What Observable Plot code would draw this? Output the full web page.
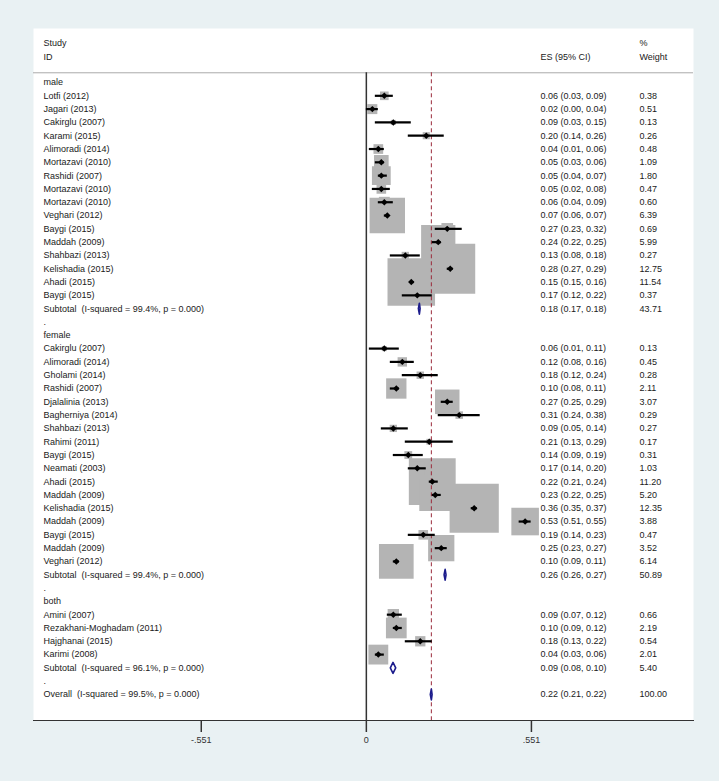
<!DOCTYPE html>
<html>
<head>
<meta charset="utf-8">
<script src="https://cdn.jsdelivr.net/npm/d3@7"></script>
<script src="https://cdn.jsdelivr.net/npm/@observablehq/plot@0.6"></script>
<style>
  html, body { margin: 0; padding: 0; background: #e9f1f3; }
</style>
</head>
<body>
<div id="chart"></div>
<script>
// ---- Data ----
const groupNames = ["male", "female", "both"];

const maleStudies = ["Lotfi (2012)", "Jagari (2013)", "Cakirglu (2007)", "Karami (2015)", "Alimoradi (2014)",
  "Mortazavi (2010)", "Rashidi (2007)", "Mortazavi (2010)", "Mortazavi (2010)", "Veghari (2012)",
  "Baygi (2015)", "Maddah (2009)", "Shahbazi (2013)", "Kelishadia (2015)", "Ahadi (2015)", "Baygi (2015)"];
const maleES = [0.06, 0.02, 0.09, 0.20, 0.04, 0.05, 0.05, 0.05, 0.06, 0.07, 0.27, 0.24, 0.13, 0.28, 0.15, 0.17];
const maleLo = [0.03, 0.00, 0.03, 0.14, 0.01, 0.03, 0.04, 0.02, 0.04, 0.06, 0.23, 0.22, 0.08, 0.27, 0.15, 0.12];
const maleHi = [0.09, 0.04, 0.15, 0.26, 0.06, 0.06, 0.07, 0.08, 0.09, 0.07, 0.32, 0.25, 0.18, 0.29, 0.16, 0.22];
const maleWeight = [0.38, 0.51, 0.13, 0.26, 0.48, 1.09, 1.80, 0.47, 0.60, 6.39, 0.69, 5.99, 0.27, 12.75, 11.54, 0.37];

const femaleStudies = ["Cakirglu (2007)", "Alimoradi (2014)", "Gholami (2014)", "Rashidi (2007)", "Djalalinia (2013)",
  "Bagherniya (2014)", "Shahbazi (2013)", "Rahimi (2011)", "Baygi (2015)", "Neamati (2003)", "Ahadi (2015)",
  "Maddah (2009)", "Kelishadia (2015)", "Maddah (2009)", "Baygi (2015)", "Maddah (2009)", "Veghari (2012)"];
const femaleES = [0.06, 0.12, 0.18, 0.10, 0.27, 0.31, 0.09, 0.21, 0.14, 0.17, 0.22, 0.23, 0.36, 0.53, 0.19, 0.25, 0.10];
const femaleLo = [0.01, 0.08, 0.12, 0.08, 0.25, 0.24, 0.05, 0.13, 0.09, 0.14, 0.21, 0.22, 0.35, 0.51, 0.14, 0.23, 0.09];
const femaleHi = [0.11, 0.16, 0.24, 0.11, 0.29, 0.38, 0.14, 0.29, 0.19, 0.20, 0.24, 0.25, 0.37, 0.55, 0.23, 0.27, 0.11];
const femaleWeight = [0.13, 0.45, 0.28, 2.11, 3.07, 0.29, 0.27, 0.17, 0.31, 1.03, 11.20, 5.20, 12.35, 3.88, 0.47, 3.52, 6.14];

const bothStudies = ["Amini (2007)", "Rezakhani-Moghadam (2011)", "Hajghanai (2015)", "Karimi (2008)"];
const bothES = [0.09, 0.10, 0.18, 0.04];
const bothLo = [0.07, 0.09, 0.13, 0.03];
const bothHi = [0.12, 0.12, 0.22, 0.06];
const bothWeight = [0.66, 2.19, 0.54, 2.01];

const subtotalLabels = ["Subtotal  (I-squared = 99.4%, p = 0.000)", "Subtotal  (I-squared = 99.4%, p = 0.000)", "Subtotal  (I-squared = 96.1%, p = 0.000)"];
const subtotalES = [0.177, 0.263, 0.089];
const subtotalLo = [0.1735, 0.2595, 0.080];
const subtotalHi = [0.1795, 0.2660, 0.098];
const subtotalWeight = [43.71, 50.89, 5.40];

const overallLabel = "Overall  (I-squared = 99.5%, p = 0.000)";
const overallES = 0.217, overallLo = 0.2135, overallHi = 0.2195, overallWeight = 100.00;

const headerLeft = ["Study", "ID"];
const headerES = "ES (95% CI)";
const headerWeight = ["%", "Weight"];

const tickValues = [-0.551, 0, 0.551];
const tickLabels = ["-.551", "0", ".551"];

// ---- Build rows ----
const groups = [
  {studies: maleStudies, es: maleES, lo: maleLo, hi: maleHi, w: maleWeight},
  {studies: femaleStudies, es: femaleES, lo: femaleLo, hi: femaleHi, w: femaleWeight},
  {studies: bothStudies, es: bothES, lo: bothLo, hi: bothHi, w: bothWeight}
];
const labelRows = [];
const studies = [];
const pooled = [];
let row = 0;
groups.forEach((g, gi) => {
  labelRows.push({row: row++, label: groupNames[gi]});
  g.studies.forEach((s, i) => {
    const d = {row: row++, label: s, es: g.es[i], lo: g.lo[i], hi: g.hi[i], w: g.w[i]};
    studies.push(d); labelRows.push(d);
  });
  const sub = {row: row++, label: subtotalLabels[gi], es: subtotalES[gi], lo: subtotalLo[gi], hi: subtotalHi[gi], w: subtotalWeight[gi]};
  pooled.push(sub); labelRows.push(sub);
  labelRows.push({row: row++, label: "."});
});
const overall = {row: row++, label: overallLabel, es: overallES, lo: overallLo, hi: overallHi, w: overallWeight};
pooled.push(overall); labelRows.push(overall);
const lastRow = overall.row;
const sepRow = -0.73;
const axisRow = lastRow + 2;
const valueRows = labelRows.filter(d => d.es !== undefined);
const fmt = v => v.toFixed(2);

const diamondPts = pooled.flatMap((d, i) => [
  {id: i, x: d.lo, y: d.row},
  {id: i, x: d.es, y: d.row - 0.41},
  {id: i, x: d.hi, y: d.row},
  {id: i, x: d.es, y: d.row + 0.41},
  {id: i, x: d.lo, y: d.row}
]);

const font = "'Liberation Sans', Arial, sans-serif";
const txt = {fontSize: 9, fontFamily: font, fill: "#1a1a1a", textAnchor: "start", frameAnchor: "left"};

const chart = Plot.plot({
  width: 719,
  height: 781,
  marginTop: 28,
  marginBottom: 61,
  marginLeft: 33,
  marginRight: 26,
  style: {background: "#e9f1f3", fontFamily: font, fontSize: "9px", color: "#222"},
  x: {domain: [-1.111, 1.092], label: null},
  y: {domain: [0, lastRow], range: [82, 694], axis: null},
  r: {type: "sqrt", domain: [0, d3.max(studies, d => d.w)], range: [0, 28.2]},
  marks: [
    Plot.frame({fill: "white", stroke: "none"}),
    Plot.ruleY([{y: sepRow}], {y: "y", stroke: "#aaaaaa", strokeWidth: 1}),
    Plot.dot(studies, {x: "es", y: "row", r: "w", symbol: "square", fill: "#b4b4b4", stroke: "none"}),
    Plot.ruleX([{x: 0, y1: sepRow, y2: axisRow}], {x: "x", y1: "y1", y2: "y2", stroke: "#333", strokeWidth: 1.5}),
    Plot.ruleX([{x: overall.es, y1: sepRow, y2: axisRow}], {x: "x", y1: "y1", y2: "y2", stroke: "#9a2a3a", strokeWidth: 1, strokeDasharray: "4,3"}),
    Plot.ruleY(studies, {y: "row", x1: "lo", x2: "hi", stroke: "black", strokeWidth: 2.2}),
    Plot.dot(studies, {x: "es", y: "row", r: 2.9, symbol: "diamond2", fill: "black", stroke: "none"}),
    Plot.line(diamondPts, {x: "x", y: "y", z: "id", stroke: "#1c1c8c", strokeWidth: 1.6}),
    Plot.text(labelRows, {...txt, y: "row", text: "label", dx: 10}),
    Plot.text(valueRows, {...txt, y: "row", text: d => `${fmt(d.es)} (${fmt(d.lo)}, ${fmt(d.hi)})`, dx: 507}),
    Plot.text(valueRows, {...txt, y: "row", text: d => fmt(d.w), dx: 606}),
    Plot.text(headerLeft.map((t, i) => ({t, row: -2.95 + i * 1.05})), {...txt, y: "row", text: "t", dx: 10}),
    Plot.text([{t: headerES, row: -1.9}], {...txt, y: "row", text: "t", dx: 507}),
    Plot.text(headerWeight.map((t, i) => ({t, row: -2.95 + i * 1.05})), {...txt, y: "row", text: "t", dx: 606}),
    Plot.frame({anchor: "bottom", stroke: "#333", strokeWidth: 1}),
    Plot.axisX(tickValues, {
      tickFormat: d => tickLabels[tickValues.indexOf(d)],
      tickSize: 12, tickPadding: 4, strokeWidth: 1.5, color: "#333",
      fontSize: 9, label: null
    })
  ]
});
document.getElementById("chart").appendChild(chart);
</script>
</body>
</html>
